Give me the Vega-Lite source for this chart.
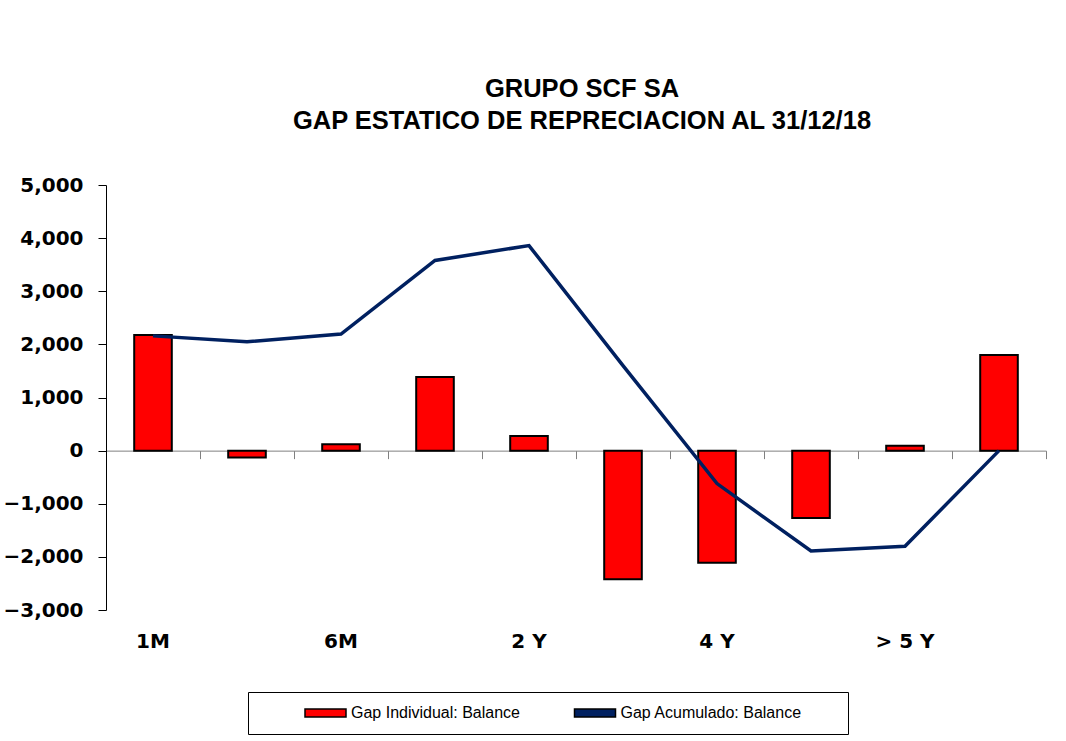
{
  "$schema": "https://vega.github.io/schema/vega-lite/v6.json",
  "width": 940,
  "height": 425,
  "autosize": "none",
  "padding": {"left": 106, "top": 185, "right": 20, "bottom": 131},
  "background": "white",
  "config": {"view": {"stroke": null}},
  "title": {
    "text": ["GRUPO SCF SA", "GAP ESTATICO DE REPRECIACION AL 31/12/18"],
    "font": "Liberation Sans",
    "fontSize": 25.5,
    "fontWeight": "bold",
    "color": "#000000",
    "lineHeight": 32,
    "anchor": "middle",
    "offset": 41,
    "dx": 6
  },
  "data": {
    "values": [
      {"plazo": "1M", "individual": 2175, "acumulado": 2160},
      {"plazo": "3M", "individual": -130, "acumulado": 2050},
      {"plazo": "6M", "individual": 120, "acumulado": 2195},
      {"plazo": "1 Y", "individual": 1385, "acumulado": 3580},
      {"plazo": "2 Y", "individual": 275, "acumulado": 3860},
      {"plazo": "3 Y", "individual": -2420, "acumulado": 1600},
      {"plazo": "4 Y", "individual": -2110, "acumulado": -620},
      {"plazo": "5 Y", "individual": -1270, "acumulado": -1890},
      {"plazo": "> 5 Y", "individual": 90, "acumulado": -1800},
      {"plazo": "No Sensible", "individual": 1800, "acumulado": 0}
    ]
  },
  "layer": [
    {
      "mark": {"type": "bar", "stroke": "#000000", "strokeWidth": 2, "width": {"band": 0.4}},
      "encoding": {
        "x": {
          "field": "plazo", "type": "nominal", "sort": null,
          "scale": {"paddingInner": 0, "paddingOuter": 0},
          "axis": {
            "orient": "bottom", "offset": -159.375, "labels": false, "title": null,
            "domainColor": "#808080", "domainWidth": 1, "tickColor": "#808080",
            "tickSize": 8, "tickWidth": 1, "tickBand": "extent", "grid": false
          }
        },
        "y": {
          "field": "individual", "type": "quantitative",
          "scale": {"domain": [-3000, 5000], "nice": false, "zero": false},
          "axis": {
            "values": [-3000, -2000, -1000, 0, 1000, 2000, 3000, 4000, 5000],
            "format": ",.0f", "title": null, "grid": false,
            "domainColor": "#000000", "domainWidth": 1, "tickColor": "#000000", "tickSize": 8,
            "labelFont": "DejaVu Sans", "labelFontWeight": "bold", "labelFontSize": 20,
            "labelColor": "#000000", "labelPadding": 15
          }
        },
        "color": {
          "datum": "Gap Individual: Balance",
          "scale": {"domain": ["Gap Individual: Balance", "Gap Acumulado: Balance"], "range": ["#FF0000", "#002060"]},
          "legend": {
            "orient": "none", "legendX": 142, "legendY": 507, "direction": "horizontal",
            "title": " ", "titleOrient": "right", "titlePadding": 33, "titleFontSize": 16,
            "strokeColor": "#000000", "fillColor": "#ffffff", "padding": 13,
            "symbolOffset": 56.5, "labelFont": "Liberation Sans", "labelFontSize": 16,
            "labelColor": "#000000", "labelOffset": 17.5, "columnPadding": 10.5, "labelLimit": 400,
            "symbolType": "M-5.125,-1H5.125V1H-5.125Z", "symbolSize": 64,
            "encode": {
              "symbols": {
                "update": {
                  "shape": {"signal": "datum.value === 'Gap Acumulado: Balance' ? 'M-5.25,0H5.25' : 'M-5.125,-1H5.125V1H-5.125Z'"},
                  "stroke": {"signal": "datum.value === 'Gap Acumulado: Balance' ? '#002060' : '#000000'"},
                  "strokeWidth": {"signal": "datum.value === 'Gap Acumulado: Balance' ? 4 : 1.5"},
                  "opacity": {"value": 1}
                }
              }
            }
          }
        }
      }
    },
    {
      "mark": {"type": "line", "stroke": "#002060", "strokeWidth": 3.5},
      "encoding": {
        "x": {
          "field": "plazo", "type": "nominal", "sort": null,
          "axis": {
            "orient": "bottom", "domain": false, "ticks": false, "title": null, "grid": false,
            "labelExpr": "indexof(['1M','6M','2 Y','4 Y','> 5 Y'], datum.value) >= 0 ? datum.label : ''",
            "labelFont": "DejaVu Sans", "labelFontWeight": "bold", "labelFontSize": 20,
            "labelColor": "#000000", "labelPadding": 21, "labelAngle": 0
          }
        },
        "y": {"field": "acumulado", "type": "quantitative", "axis": null}
      }
    }
  ],
  "resolve": {"axis": {"x": "independent", "y": "independent"}}
}
